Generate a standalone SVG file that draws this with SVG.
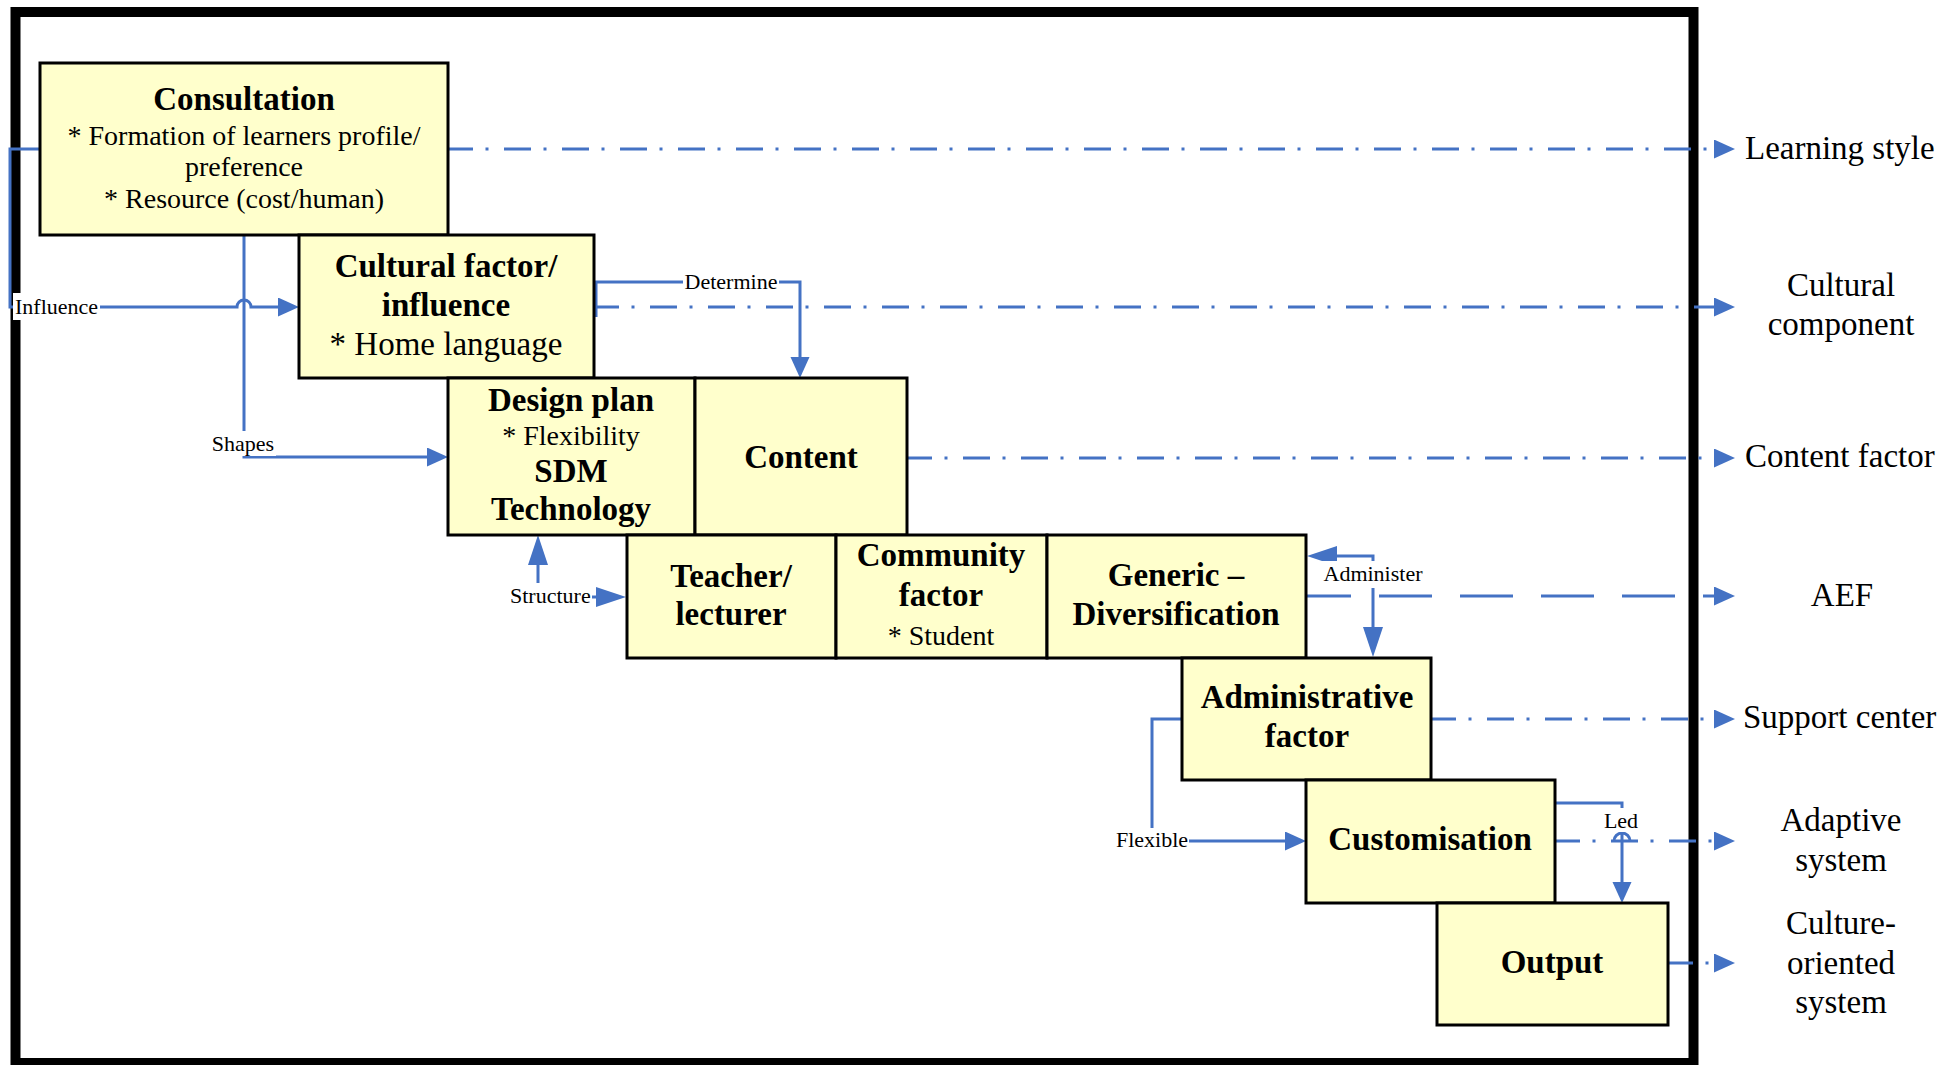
<svg xmlns="http://www.w3.org/2000/svg" width="1959" height="1065" viewBox="0 0 1959 1065">
  <style>
    .box { fill: #FFFFCC; stroke: #000; stroke-width: 3; }
    .t { font-family: "Liberation Serif", "Times New Roman", serif; fill: #000; text-anchor: middle; }
    .st { text-anchor: start; }
    .tb { font-weight: bold; font-size: 33px; }
    .ts { font-size: 28px; }
    .tm { font-size: 33px; }
    .lbl { font-family: "Liberation Serif", "Times New Roman", serif; font-size: 22px; fill: #000; }
    .mid { text-anchor: middle; }
    .ln { fill: none; stroke: #4472C4; stroke-width: 3; }
    .dd { stroke-dasharray: 27 12.5 3 15.5; stroke-dashoffset: 2; }
    .ld { stroke-dasharray: 53 28; stroke-dashoffset: 8; }
    .bg { fill: #fff; }
  </style>
  <defs>
    <!-- base-anchored arrowheads: the path ends at the base, the tip extends beyond -->
    <marker id="ah" markerUnits="userSpaceOnUse" markerWidth="22" markerHeight="20" refX="0" refY="9.5" orient="auto-start-reverse">
      <path d="M0,0 L21,9.5 L0,19 z" fill="#4472C4"/>
    </marker>
    <marker id="ahl" markerUnits="userSpaceOnUse" markerWidth="31" markerHeight="21" refX="0" refY="10" orient="auto-start-reverse">
      <path d="M0,0 L30,10 L0,20 z" fill="#4472C4"/>
    </marker>
  </defs>

  <rect width="1959" height="1065" fill="#fff"/>

  <!-- outer frame -->
  <rect x="15.5" y="12" width="1678" height="1051" fill="none" stroke="#000" stroke-width="10"/>

  <g id="connectors">
    <!-- outputs leaving the frame -->
    <path class="ln dd" d="M448,149 H1714" marker-end="url(#ah)"/>
    <path class="ln dd" d="M594,307 H1714" marker-end="url(#ah)"/>
    <path class="ln dd" d="M907,458 H1714" marker-end="url(#ah)"/>
    <path class="ln ld" d="M1306,596 H1714" marker-end="url(#ah)"/>
    <path class="ln dd" d="M1431,719 H1714" marker-end="url(#ah)"/>
    <path class="ln dd" d="M1555,841 H1714" marker-end="url(#ah)"/>
    <path class="ln dd" d="M1668,963 H1714" marker-end="url(#ah)"/>

    <!-- internal links -->
    <path class="ln" d="M244,235 V457 H427" marker-end="url(#ah)"/>
    <path class="ln" d="M40,149 H10 V307 H237 A7,7 0 0 1 251,307 H278" marker-end="url(#ah)"/>
    <path class="ln" d="M596,317 V282 H800 V357" marker-end="url(#ah)"/>
    <path class="ln" d="M538,565 V597 H596" marker-start="url(#ahl)" marker-end="url(#ahl)"/>
    <path class="ln" d="M1373,627 V556 H1337" marker-start="url(#ahl)" marker-end="url(#ahl)"/>
    <path class="ln" d="M1182,719 H1152 V841 H1285" marker-end="url(#ah)"/>
    <path class="ln" d="M1555,803 H1622 V882" marker-end="url(#ah)"/>
    <path class="ln" d="M1614,841 A8,8 0 0 1 1630,841"/>

    <!-- link labels -->
    <rect class="bg" x="13" y="293" width="87" height="27"/>
    <text class="lbl" x="15" y="314">Influence</text>
    <rect class="bg" x="210" y="431" width="66" height="25"/>
    <text class="lbl mid" x="243" y="451">Shapes</text>
    <rect class="bg" x="683" y="270" width="96" height="23"/>
    <text class="lbl mid" x="731" y="289">Determine</text>
    <rect class="bg" x="508" y="583" width="84" height="24"/>
    <text class="lbl" x="510" y="603">Structure</text>
    <rect class="bg" x="1321" y="561" width="104" height="27"/>
    <text class="lbl mid" x="1373" y="581">Administer</text>
    <rect class="bg" x="1114" y="828" width="75" height="24"/>
    <text class="lbl" x="1116" y="847">Flexible</text>
    <rect class="bg" x="1603" y="808" width="37" height="24"/>
    <text class="lbl mid" x="1621" y="828">Led</text>
  </g>

  <g id="consultation">
    <rect class="box" x="40" y="63" width="408" height="172"/>
    <text class="t tb" x="244" y="110">Consultation</text>
    <text class="t ts" x="244" y="145">* Formation of learners profile/</text>
    <text class="t ts" x="244" y="176">preference</text>
    <text class="t ts" x="244" y="208">* Resource (cost/human)</text>
  </g>

  <g id="cultural-factor">
    <rect class="box" x="299" y="235" width="295" height="143"/>
    <text class="t tb" x="446" y="277">Cultural factor/</text>
    <text class="t tb" x="446" y="316">influence</text>
    <text class="t tm" x="446" y="355">* Home language</text>
  </g>

  <g id="design-plan">
    <rect class="box" x="448" y="378" width="247" height="157"/>
    <text class="t tb" x="571" y="411">Design plan</text>
    <text class="t ts" x="571" y="445">* Flexibility</text>
    <text class="t tb" x="571" y="482">SDM</text>
    <text class="t tb" x="571" y="520">Technology</text>
  </g>

  <g id="content">
    <rect class="box" x="695" y="378" width="212" height="157"/>
    <text class="t tb" x="801" y="468">Content</text>
  </g>

  <g id="teacher">
    <rect class="box" x="627" y="535" width="209" height="123"/>
    <text class="t tb" x="731" y="587">Teacher/</text>
    <text class="t tb" x="731" y="625">lecturer</text>
  </g>

  <g id="community-factor">
    <rect class="box" x="836" y="535" width="211" height="123"/>
    <text class="t tb" x="941" y="566">Community</text>
    <text class="t tb" x="941" y="606">factor</text>
    <text class="t ts" x="941" y="645">* Student</text>
  </g>

  <g id="generic">
    <rect class="box" x="1047" y="535" width="259" height="123"/>
    <text class="t tb" x="1176" y="586">Generic –</text>
    <text class="t tb" x="1176" y="625">Diversification</text>
  </g>

  <g id="administrative-factor">
    <rect class="box" x="1182" y="658" width="249" height="122"/>
    <text class="t tb" x="1307" y="708">Administrative</text>
    <text class="t tb" x="1307" y="747">factor</text>
  </g>

  <g id="customisation">
    <rect class="box" x="1306" y="780" width="249" height="123"/>
    <text class="t tb" x="1430" y="850">Customisation</text>
  </g>

  <g id="output">
    <rect class="box" x="1437" y="903" width="231" height="122"/>
    <text class="t tb" x="1552" y="973">Output</text>
  </g>

  <!-- results listed outside the frame -->
  <g id="learning-style">
    <text class="t st tm" x="1745" y="159">Learning style</text>
  </g>
  <g id="cultural-component">
    <text class="t tm" x="1841" y="296">Cultural</text>
    <text class="t tm" x="1841" y="335">component</text>
  </g>
  <g id="content-factor">
    <text class="t st tm" x="1745" y="467">Content factor</text>
  </g>
  <g id="aef">
    <text class="t tm" x="1842" y="606">AEF</text>
  </g>
  <g id="support-center">
    <text class="t st tm" x="1743" y="728">Support center</text>
  </g>
  <g id="adaptive-system">
    <text class="t tm" x="1841" y="831">Adaptive</text>
    <text class="t tm" x="1841" y="871">system</text>
  </g>
  <g id="culture-oriented-system">
    <text class="t tm" x="1841" y="934">Culture-</text>
    <text class="t tm" x="1841" y="974">oriented</text>
    <text class="t tm" x="1841" y="1013">system</text>
  </g>
</svg>
